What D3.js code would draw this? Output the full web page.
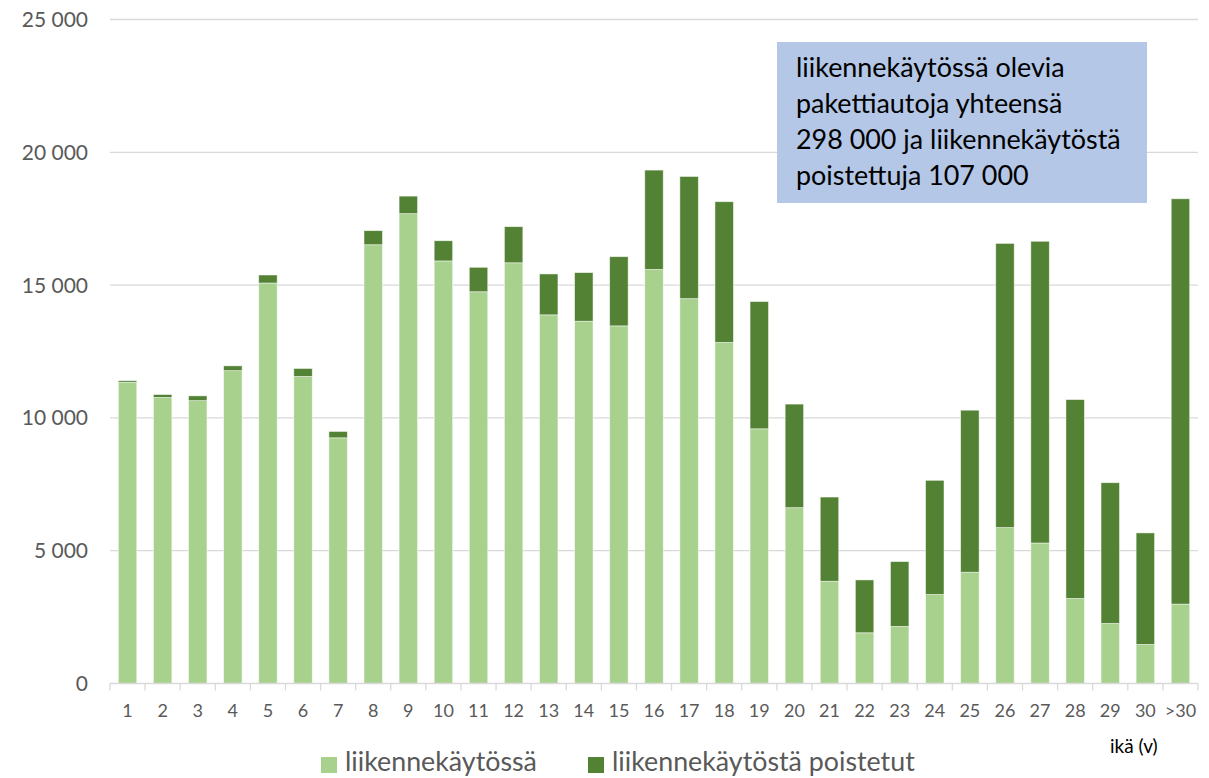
<!DOCTYPE html>
<html>
<head>
<meta charset="utf-8">
<script src="https://cdn.jsdelivr.net/npm/d3@7"></script>
<style>
  html, body { margin: 0; padding: 0; background: #fff; }
  svg { display: block; }
  text { font-family: Lato, "Open Sans", sans-serif; }
</style>
</head>
<body>
<svg id="chart" width="1209" height="778"></svg>
<script>
const categories = ["1","2","3","4","5","6","7","8","9","10","11","12","13","14","15","16","17","18","19","20","21","22","23","24","25","26","27","28","29","30",">30"];
const inTraffic = [11340,10770,10650,11780,15080,11560,9250,16520,17690,15910,14750,15840,13880,13640,13465,15590,14490,12840,9590,6620,3850,1910,2150,3350,4190,5870,5290,3200,2260,1470,2990];
const removed   = [60,110,180,180,300,300,240,530,660,760,920,1360,1540,1830,2605,3740,4600,5300,4790,3900,3170,1990,2440,4300,6100,10700,11360,7490,5300,4200,15260];
const seriesNames = ["liikennekäytössä", "liikennekäytöstä poistetut"];
const yTicks = [0, 5000, 10000, 15000, 20000, 25000];
const xAxisTitle = "ikä (v)";
const noteLines = ["liikennekäytössä olevia", "pakettiautoja yhteensä", "298 000 ja liikennekäytöstä", "poistettuja 107 000"];

const colors = ["#a9d18e", "#548235"];
const svg = d3.select("#chart");

const left = 110, right = 1198, y0 = 683.5, yTop = 19.5;

const x = d3.scaleBand().domain(categories).range([left, right])
  .paddingInner(0.474).paddingOuter(0.237);
const y = d3.scaleLinear().domain([0, 25000]).range([y0, yTop]);

const fmt = d3.formatLocale({decimal: ",", thousands: " ", grouping: [3], currency: ["", ""]}).format(",d");

// gridlines
svg.append("g").selectAll("line").data(yTicks.filter(d => d > 0)).join("line")
  .attr("x1", left).attr("x2", right)
  .attr("y1", d => y(d)).attr("y2", d => y(d))
  .attr("stroke", "#d9d9d9").attr("stroke-width", 1.3);

// y labels
svg.append("g").selectAll("text").data(yTicks).join("text")
  .attr("x", 88).attr("y", d => y(d))
  .attr("dy", "0.36em")
  .attr("text-anchor", "end")
  .attr("font-size", 21)
  .attr("fill", "#595959")
  .text(d => fmt(d));

// stacked data
const rows = categories.map((c, i) => ({cat: c, a: inTraffic[i], b: removed[i]}));
const stack = d3.stack().keys(["a", "b"])(rows);

svg.append("g").selectAll("g").data(stack).join("g")
  .attr("fill", (d, i) => colors[i])
  .selectAll("rect").data(d => d).join("rect")
  .attr("x", d => x(d.data.cat))
  .attr("width", x.bandwidth())
  .attr("y", d => y(d[1]))
  .attr("height", d => y(d[0]) - y(d[1]))
  .attr("stroke", "#ffffff").attr("stroke-opacity", 0.6).attr("stroke-width", 0.8);

// x axis line and ticks
const step = x.step();
svg.append("line").attr("x1", left).attr("x2", right).attr("y1", y0).attr("y2", y0)
  .attr("stroke", "#d9d9d9").attr("stroke-width", 1.3);
svg.append("g").selectAll("line").data(d3.range(categories.length + 1)).join("line")
  .attr("x1", i => left + i * step).attr("x2", i => left + i * step)
  .attr("y1", y0).attr("y2", y0 + 7)
  .attr("stroke", "#d9d9d9").attr("stroke-width", 1.3);

svg.append("g").selectAll("text").data(categories).join("text")
  .attr("x", d => x(d) + x.bandwidth() / 2)
  .attr("y", 717)
  .attr("text-anchor", "middle")
  .attr("font-size", 18)
  .attr("fill", "#595959")
  .text(d => d);

// axis title
svg.append("text").attr("x", 1110).attr("y", 753)
  .attr("font-size", 19).attr("fill", "#000").text(xAxisTitle);

// legend
const legendX = [321, 588];
seriesNames.forEach((name, i) => {
  svg.append("rect").attr("x", legendX[i]).attr("y", 757).attr("width", 16).attr("height", 16).attr("fill", colors[i]);
  svg.append("text").attr("x", legendX[i] + 24).attr("y", 771)
    .attr("font-size", 26.8).attr("fill", "#595959").text(name);
});

// note box
svg.append("rect").attr("x", 777).attr("y", 42).attr("width", 370).attr("height", 161).attr("fill", "#b4c7e7");
svg.append("g").selectAll("text").data(noteLines).join("text")
  .attr("x", 796).attr("y", (d, i) => 77 + i * 36)
  .attr("font-size", 26.9).attr("fill", "#000").text(d => d);
</script>
</body>
</html>
